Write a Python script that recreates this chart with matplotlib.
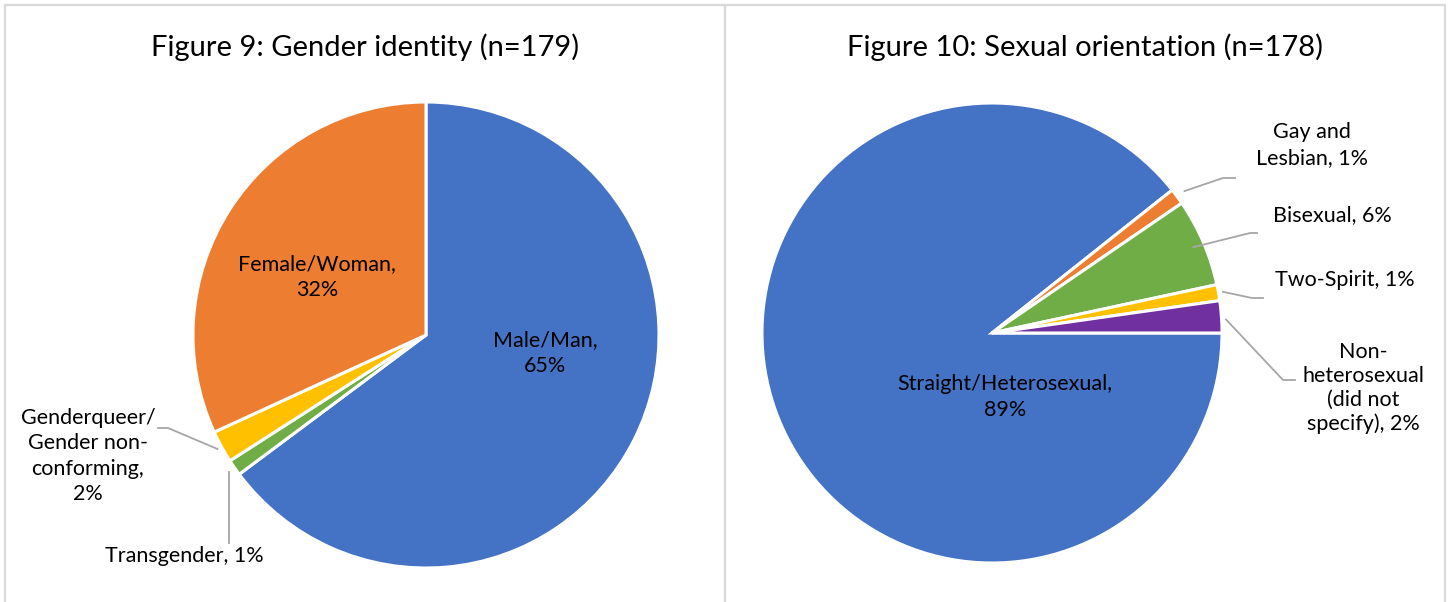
import numpy as np
import matplotlib
matplotlib.use("Agg")
import matplotlib.pyplot as plt
from matplotlib.patches import Rectangle
from matplotlib.lines import Line2D

# ---------------- data ----------------
gender_labels = ["Male/Man", "Transgender", "Genderqueer/\nGender non-\nconforming", "Female/Woman"]
gender_counts = [116, 2, 4, 57]
gender_pct = [65, 1, 2, 32]

orient_labels = ["Straight/Heterosexual", "Gay and\nLesbian", "Bisexual", "Two-Spirit",
                 "Non-\nheterosexual\n(did not\nspecify)"]
orient_counts = [159, 2, 11, 2, 4]
orient_pct = [89, 1, 6, 1, 2]

title_left = "Figure 9: Gender identity (n=179)"
title_right = "Figure 10: Sexual orientation (n=178)"

BLUE, ORANGE, YELLOW, GREEN, PURPLE = "#4472C4", "#ED7D31", "#FFC000", "#70AD47", "#7030A0"
gender_colors = [BLUE, GREEN, YELLOW, ORANGE]
orient_colors = [BLUE, ORANGE, GREEN, YELLOW, PURPLE]

W, H = 1448, 602
plt.rcParams['font.family'] = ['Lato', 'DejaVu Sans']
fig = plt.figure(figsize=(W / 100, H / 100), dpi=100)

def fx(x):
    return x / W

def fy(y):
    return 1 - y / H

# panel borders
for x0, x1 in [(5, 725), (725, 1445)]:
    fig.patches.append(Rectangle((fx(x0), fy(640)), fx(x1 - x0), (640 - 5) / H,
                                 transform=fig.transFigure, fill=False,
                                 edgecolor="#D9D9D9", linewidth=1.6, zorder=0))

TFS = 21
fig.text(fx(365), fy(47), title_left, ha="center", va="center", fontsize=TFS, color="#000000")
fig.text(fx(1085), fy(47), title_right, ha="center", va="center", fontsize=TFS, color="#000000")

def make_pie(cx, cy, r, counts, colors, startangle):
    ax = fig.add_axes([fx(cx - r), fy(cy + r), 2 * r / W, 2 * r / H])
    wedges, _ = ax.pie(counts, colors=colors, startangle=startangle, counterclock=False,
                       radius=1, wedgeprops=dict(edgecolor="white", linewidth=2.2))
    ax.set_xlim(-1, 1)
    ax.set_ylim(-1, 1)
    ax.axis("off")
    return wedges

def mid_point(w, cx, cy, r, k=1.02):
    th = np.deg2rad((w.theta1 + w.theta2) / 2)
    return cx + k * r * np.cos(th), cy - k * r * np.sin(th)

def leader(pts):
    xs = [fx(p[0]) for p in pts]
    ys = [fy(p[1]) for p in pts]
    fig.lines.append(Line2D(xs, ys, transform=fig.transFigure, color="#A6A6A6", linewidth=1.3))

LFS = 15.5
# ---------- left pie ----------
lcx, lcy, lr = 426, 335, 233
gw = make_pie(lcx, lcy, lr, gender_counts, gender_colors, 90)
fig.text(fx(545), fy(353), f"{gender_labels[0]},\n{gender_pct[0]}%", ha="center", va="center",
         fontsize=LFS, linespacing=1.4)
fig.text(fx(317), fy(277), f"{gender_labels[3]},\n{gender_pct[3]}%", ha="center", va="center",
         fontsize=LFS, linespacing=1.4)
fig.text(fx(88), fy(456), f"{gender_labels[2]},\n{gender_pct[2]}%", ha="center", va="center",
         fontsize=LFS, linespacing=1.35)
fig.text(fx(184), fy(556), f"{gender_labels[1]}, {gender_pct[1]}%", ha="center", va="center",
         fontsize=LFS)
p = mid_point(gw[2], lcx, lcy, lr)
leader([p, (168, 428), (158, 428)])
p = mid_point(gw[1], lcx, lcy, lr, 1.03)
leader([p, (p[0], 543)])

# ---------- right pie ----------
rcx, rcy, rr = 992, 333, 230
ow = make_pie(rcx, rcy, rr, orient_counts, orient_colors, 0)
fig.text(fx(1005), fy(397), f"{orient_labels[0]},\n{orient_pct[0]}%", ha="center", va="center",
         fontsize=LFS, linespacing=1.4)
fig.text(fx(1312), fy(145), f"{orient_labels[1]}, {orient_pct[1]}%", ha="center", va="center",
         fontsize=LFS, linespacing=1.35)
fig.text(fx(1332), fy(215), f"{orient_labels[2]}, {orient_pct[2]}%", ha="center", va="center",
         fontsize=LFS)
fig.text(fx(1345), fy(280), f"{orient_labels[3]}, {orient_pct[3]}%", ha="center", va="center",
         fontsize=LFS)
fig.text(fx(1363), fy(388), f"{orient_labels[4]}, {orient_pct[4]}%", ha="center", va="center",
         fontsize=LFS, linespacing=1.25)
p = mid_point(ow[1], rcx, rcy, rr, 1.04)
leader([p, (1223, 178), (1235, 178)])
p = mid_point(ow[2], rcx, rcy, rr, 1.0)
leader([(p[0] - 10, p[1] + 5), (1250, 233), (1257, 233)])
p = mid_point(ow[3], rcx, rcy, rr, 1.02)
leader([p, (1252, 298), (1263, 298)])
p = mid_point(ow[4], rcx, rcy, rr, 1.02)
leader([(p[0], p[1] + 3), (1283, 380), (1295, 380)])

fig.savefig("out.png", dpi=100, facecolor="white")
